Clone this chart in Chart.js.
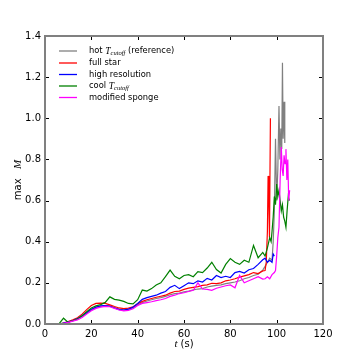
<!DOCTYPE html>
<html>
<head>
<meta charset="utf-8">
<script src="https://cdn.jsdelivr.net/npm/chart.js@4/dist/chart.umd.min.js"></script>
<style>
  html, body { margin: 0; padding: 0; background: #fff; }
  #wrap { width: 360px; height: 360px; }
</style>
</head>
<body>
<div id="wrap"><canvas id="chart" width="360" height="360"></canvas></div>
<script>
// shared time base for the slow part of every run (s)
const times = [0, 2, 4, 6, 8, 10, 12, 14, 16, 18, 20, 22, 24, 26, 28, 30, 32, 34, 36, 38,
  40, 42, 44, 46, 48, 50, 52, 54, 56, 58, 60, 62, 64, 66, 68, 70, 72, 74, 76, 78,
  80, 82, 84, 86, 88, 90, 92, 94];

const hotMain = [0, 0, 0, 0, 0.004, 0.01, 0.016, 0.024, 0.036, 0.052, 0.068, 0.08, 0.086, 0.09, 0.088, 0.08, 0.072, 0.068, 0.07, 0.078,
  0.092, 0.104, 0.112, 0.118, 0.124, 0.128, 0.134, 0.142, 0.148, 0.15, 0.156, 0.16, 0.166, 0.17, 0.172, 0.18, 0.184, 0.188, 0.19, 0.196,
  0.2, 0.204, 0.21, 0.22, 0.226, 0.236, 0.242, 0.262];
const hotTailT = [95, 96, 97, 98, 98.5, 99, 99.5, 100, 100.5, 101, 101.4, 101.8, 102.2, 102.5, 102.8, 103.2, 103.5];
const hotTailM = [0.28, 0.3, 0.32, 0.31, 0.4, 0.55, 0.9, 0.6, 0.75, 1.06, 0.8, 0.95, 0.85, 1.27, 0.9, 1.08, 0.88];

const fullMain = [0, 0, 0, 0, 0.005, 0.012, 0.02, 0.03, 0.048, 0.07, 0.09, 0.1, 0.101, 0.1, 0.093, 0.085, 0.078, 0.075, 0.077, 0.084,
  0.098, 0.11, 0.118, 0.124, 0.13, 0.135, 0.14, 0.15, 0.158, 0.16, 0.168, 0.174, 0.178, 0.182, 0.188, 0.19, 0.198, 0.196, 0.2, 0.21,
  0.214, 0.22, 0.228, 0.234, 0.24, 0.25, 0.245, 0.258];
const fullTailT = [95, 95.5, 96, 96.3, 96.6, 96.9, 97.3];
const fullTailM = [0.26, 0.3, 0.45, 0.72, 0.6, 0.42, 1.0];

const hiresMain = [0, 0, 0, 0, 0.004, 0.01, 0.016, 0.026, 0.04, 0.056, 0.072, 0.082, 0.088, 0.09, 0.086, 0.078, 0.07, 0.068, 0.072, 0.082,
  0.1, 0.12, 0.128, 0.134, 0.14, 0.15, 0.158, 0.178, 0.188, 0.172, 0.186, 0.2, 0.196, 0.21, 0.204, 0.222, 0.214, 0.236, 0.226, 0.232,
  0.226, 0.25, 0.256, 0.248, 0.264, 0.27, 0.29, 0.312];
const hiresTailT = [95, 96, 97, 98, 98.5, 99];
const hiresTailM = [0.32, 0.3, 0.31, 0.3, 0.34, 0.33];

const coolMain = [0, 0, 0, 0, 0.028, 0.008, 0.016, 0.024, 0.04, 0.06, 0.078, 0.088, 0.094, 0.105, 0.132, 0.12, 0.116, 0.11, 0.1, 0.098,
  0.118, 0.165, 0.16, 0.172, 0.19, 0.2, 0.23, 0.262, 0.232, 0.22, 0.236, 0.24, 0.23, 0.255, 0.25, 0.272, 0.3, 0.265, 0.248, 0.29,
  0.318, 0.3, 0.29, 0.31, 0.3, 0.382, 0.322, 0.348];
const coolTailT = [95, 96, 97, 97.6, 98, 98.5, 99, 99.5, 100, 100.5, 101, 101.5, 102, 102.5, 103, 103.5, 104, 104.5, 105, 105.5];
const coolTailM = [0.33, 0.37, 0.42, 0.4, 0.45, 0.52, 0.62, 0.58, 0.68, 0.62, 0.65, 0.6, 0.55, 0.58, 0.52, 0.5, 0.47, 0.55, 0.62, 0.6];

const spongeMain = [0, 0, 0, 0, 0.003, 0.008, 0.014, 0.02, 0.032, 0.048, 0.064, 0.076, 0.082, 0.086, 0.084, 0.076, 0.068, 0.064, 0.066, 0.074,
  0.09, 0.1, 0.104, 0.108, 0.114, 0.118, 0.124, 0.134, 0.14, 0.148, 0.152, 0.158, 0.164, 0.2, 0.17, 0.168, 0.164, 0.174, 0.18, 0.186,
  0.19, 0.176, 0.236, 0.2, 0.21, 0.22, 0.23, 0.218];
const spongeTailT = [95, 96, 97, 98, 99, 99.5, 100, 100.5, 101, 101.5, 102, 102.4, 102.8, 103.2, 103.6, 104, 104.4, 104.8, 105.2, 105.6];
const spongeTailM = [0.22, 0.23, 0.22, 0.24, 0.25, 0.26, 0.33, 0.42, 0.47, 0.7, 0.86, 0.75, 0.72, 0.82, 0.78, 0.85, 0.7, 0.8, 0.6, 0.65];

const xTicks = [0, 20, 40, 60, 80, 100, 120];
const yTicks = [0, 0.2, 0.4, 0.6, 0.8, 1.0, 1.2, 1.4];

function pts(main, tailT, tailM) {
  const a = times.map((t, i) => ({ x: t, y: main[i] }));
  return a.concat(tailT.map((t, i) => ({ x: t, y: tailM[i] })));
}

// legend rows: [before, math, subscript, after, colour]
const legendRows = [
  ['hot ', 'T', 'cutoff', ' (reference)', '#808080'],
  ['full star', '', '', '', '#ff0000'],
  ['high resolution', '', '', '', '#0000ff'],
  ['cool ', 'T', 'cutoff', '', '#008000'],
  ['modified sponge', '', '', '', '#ff00ff']
];

const SANS = '"DejaVu Sans", sans-serif';
const MATH = '"Liberation Serif", serif';

const decor = {
  id: 'decor',
  afterDraw(chart) {
    const ctx = chart.ctx;
    const a = chart.chartArea;
    const xs = chart.scales.x, ys = chart.scales.y;
    ctx.save();

    // inward ticks on all four sides
    ctx.strokeStyle = '#000';
    ctx.lineWidth = 1;
    ctx.beginPath();
    xTicks.forEach(v => {
      const p = Math.round(xs.getPixelForValue(v)) + 0.5;
      ctx.moveTo(p, a.bottom); ctx.lineTo(p, a.bottom - 4);
      ctx.moveTo(p, a.top); ctx.lineTo(p, a.top + 4);
    });
    yTicks.forEach(v => {
      const p = Math.round(ys.getPixelForValue(v)) + 0.5;
      ctx.moveTo(a.left, p); ctx.lineTo(a.left + 4, p);
      ctx.moveTo(a.right, p); ctx.lineTo(a.right - 4, p);
    });
    ctx.stroke();

    // frame
    ctx.strokeStyle = '#808080';
    ctx.lineWidth = 2;
    ctx.strokeRect(a.left, a.top, a.right - a.left, a.bottom - a.top);

    // legend
    const rowY = [51, 63, 74.5, 86, 97.5];
    legendRows.forEach((r, i) => {
      const y = rowY[i];
      ctx.strokeStyle = r[4];
      ctx.lineWidth = 1.3;
      ctx.beginPath();
      ctx.moveTo(59, y); ctx.lineTo(77, y);
      ctx.stroke();
      ctx.fillStyle = '#000';
      ctx.textBaseline = 'middle';
      ctx.textAlign = 'left';
      let x = 89;
      ctx.font = '8.33px ' + SANS;
      ctx.fillText(r[0], x, y);
      x += ctx.measureText(r[0]).width;
      if (r[1]) {
        ctx.font = 'italic 9.5px ' + MATH;
        ctx.fillText(r[1], x, y);
        x += ctx.measureText(r[1]).width;
        ctx.font = 'italic 6.5px ' + MATH;
        ctx.fillText(r[2], x, y + 2.5);
        x += ctx.measureText(r[2]).width;
        ctx.font = '8.33px ' + SANS;
        ctx.fillText(r[3], x, y);
      }
    });

    // x axis title: t (s)
    ctx.textBaseline = 'middle';
    ctx.font = 'italic 11px ' + MATH;
    const tW = ctx.measureText('t').width;
    ctx.font = '10px ' + SANS;
    const sW = ctx.measureText(' (s)').width;
    let cx = (a.left + a.right) / 2 - (tW + sW) / 2;
    ctx.textAlign = 'left';
    ctx.font = 'italic 11px ' + MATH;
    ctx.fillText('t', cx, 344);
    ctx.font = '10px ' + SANS;
    ctx.fillText(' (s)', cx + tW, 344);

    // y axis title: max M
    ctx.translate(18, (a.top + a.bottom) / 2);
    ctx.rotate(-Math.PI / 2);
    ctx.font = '10px ' + SANS;
    const mW = ctx.measureText('max   ').width;
    ctx.font = 'italic 11px ' + MATH;
    const MW = ctx.measureText('M').width;
    let cy = -(mW + MW) / 2;
    ctx.font = '10px ' + SANS;
    ctx.fillText('max   ', cy, 0);
    ctx.font = 'italic 11px ' + MATH;
    ctx.fillText('M', cy + mW, 0);

    ctx.restore();
  }
};

function ds(label, data, color, order) {
  return { label, data, borderColor: color, borderWidth: 1.2, pointRadius: 0, tension: 0, fill: false, order };
}

new Chart(document.getElementById('chart'), {
  type: 'line',
  data: {
    datasets: [
      ds('hot T_cutoff (reference)', pts(hotMain, hotTailT, hotTailM), '#808080', 4),
      ds('full star', pts(fullMain, fullTailT, fullTailM), '#ff0000', 3),
      ds('high resolution', pts(hiresMain, hiresTailT, hiresTailM), '#0000ff', 2),
      ds('cool T_cutoff', pts(coolMain, coolTailT, coolTailM), '#008000', 1),
      ds('modified sponge', pts(spongeMain, spongeTailT, spongeTailM), '#ff00ff', 0)
    ]
  },
  options: {
    responsive: false,
    animation: false,
    layout: { padding: { top: 36, right: 37, left: 0, bottom: 0 } },
    plugins: { legend: { display: false }, tooltip: { enabled: false } },
    scales: {
      x: {
        type: 'linear', min: 0, max: 120,
        afterFit: s => { s.height = 36; },
        afterBuildTicks: s => { s.ticks = xTicks.map(v => ({ value: v })); },
        grid: { display: false, drawTicks: false },
        border: { display: false },
        ticks: { padding: 4, color: '#000', font: { family: SANS, size: 10 }, maxRotation: 0 }
      },
      y: {
        type: 'linear', min: 0, max: 1.4,
        afterFit: s => { s.width = 45; },
        afterBuildTicks: s => { s.ticks = yTicks.map(v => ({ value: v })); },
        grid: { display: false, drawTicks: false },
        border: { display: false },
        ticks: { padding: 4, color: '#000', font: { family: SANS, size: 10 }, callback: v => v.toFixed(1) }
      }
    }
  },
  plugins: [decor]
});
</script>
</body>
</html>
